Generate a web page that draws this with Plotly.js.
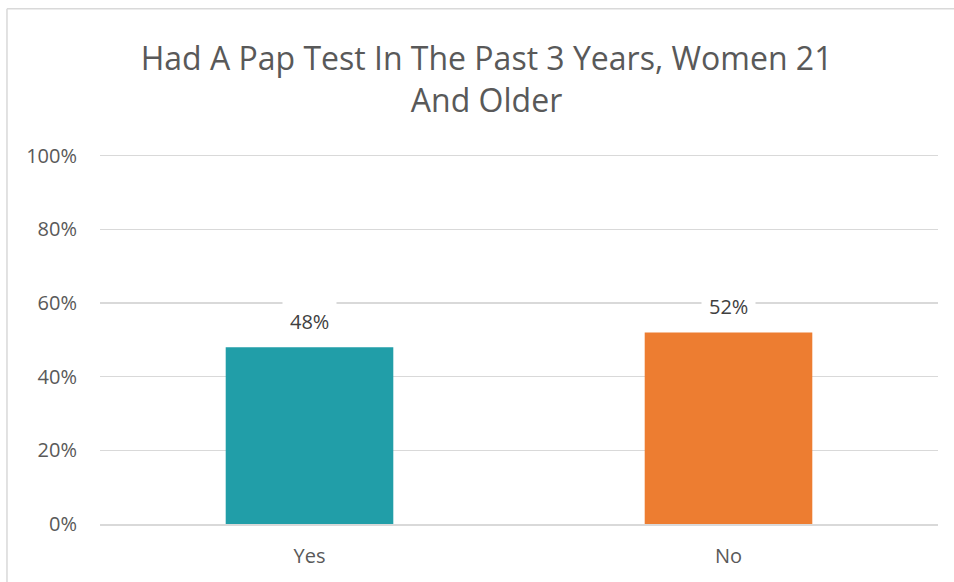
<!DOCTYPE html>
<html>
<head>
<meta charset="utf-8">
<script src="https://cdn.plot.ly/plotly-3.0.1.min.js"></script>
<style>html,body{margin:0;padding:0;background:#fff;overflow:hidden;}#chart{width:954px;height:582px;}</style>
</head>
<body>
<div id="chart"></div>
<script>
const categories = ["Yes", "No"];
const values = [0.48, 0.52];
const labels = ["48%", "52%"];
const colors = ["#219EA8", "#ED7D31"];
const yTicks = [0, 0.2, 0.4, 0.6, 0.8, 1.0];
const yTickLabels = ["0%", "20%", "40%", "60%", "80%", "100%"];
const titleText = "Had A Pap Test In The Past 3 Years, Women 21<br>And Older";

const font = "Open Sans, sans-serif";
const trace = {
  type: "bar",
  x: categories,
  y: values,
  marker: {color: colors},
  hoverinfo: "none"
};
const annotations = categories.map((c, i) => ({
  x: c, y: values[i], xref: "x", yref: "y",
  text: labels[i], showarrow: false, yshift: 26,
  bgcolor: "#ffffff", borderpad: 7,
  font: {family: font, size: 20, color: "#404040"}
}));
const borderStyle = {color: "#d9d9d9", width: 1.5};
const layout = {
  width: 954, height: 582,
  margin: {l: 100, r: 16, t: 152, b: 58},
  paper_bgcolor: "#ffffff", plot_bgcolor: "#ffffff",
  title: {text: titleText, x: 0.51, xanchor: "center", y: 0.879, yanchor: "top",
    font: {family: font, size: 32, color: "#595959"}},
  bargap: 0.6,
  showlegend: false,
  xaxis: {showgrid: false, showline: true, linecolor: "#d9d9d9", linewidth: 1.5,
    ticks: "", ticklabelstandoff: 13, tickfont: {family: font, size: 20, color: "#595959"}, fixedrange: true},
  yaxis: {range: [0, 1.01], tickvals: yTicks, ticktext: yTickLabels, showgrid: true,
    gridcolor: "#d9d9d9", gridwidth: 1.5, zeroline: false, showline: false, ticks: "",
    ticklabelstandoff: 22, tickfont: {family: font, size: 20, color: "#595959"}, fixedrange: true},
  annotations: annotations,
  shapes: [
    {type: "line", xref: "paper", yref: "paper", x0: -0.111, x1: 1.03, y0: 1.385, y1: 1.385, line: borderStyle, layer: "below"},
    {type: "line", xref: "paper", yref: "paper", x0: -0.111, x1: -0.111, y0: -0.2, y1: 1.385, line: borderStyle, layer: "below"}
  ]
};
Plotly.newPlot("chart", [trace], layout, {displayModeBar: false, staticPlot: true});
</script>
</body>
</html>
